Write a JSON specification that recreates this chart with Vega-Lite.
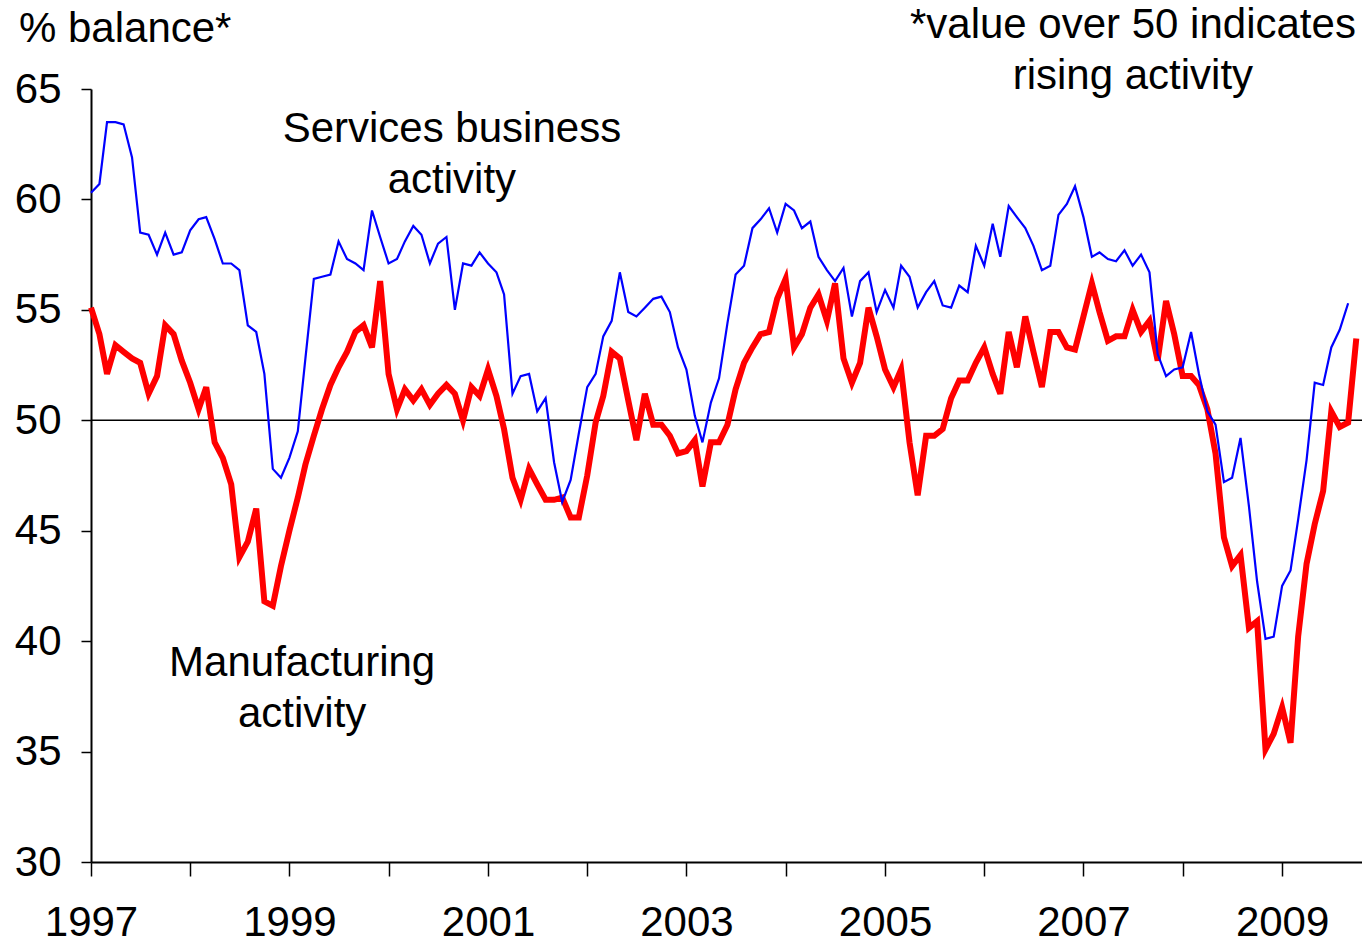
{
  "$schema": "https://vega.github.io/schema/vega-lite/v6.json",
  "width": 1271,
  "height": 773,
  "autosize": "none",
  "padding": {"left": 91, "top": 89, "right": 0, "bottom": 79},
  "background": "white",
  "config": {"font": "Liberation Sans", "view": {"stroke": null}},
  "datasets": {
    "pmi": [
      {"date":"1997-01-01","services":60.3,"manufacturing":55.1},
      {"date":"1997-02-01","services":60.7,"manufacturing":53.9},
      {"date":"1997-03-01","services":63.5,"manufacturing":52.1},
      {"date":"1997-04-01","services":63.5,"manufacturing":53.4},
      {"date":"1997-05-01","services":63.4,"manufacturing":53.1},
      {"date":"1997-06-01","services":61.9,"manufacturing":52.8},
      {"date":"1997-07-01","services":58.5,"manufacturing":52.6},
      {"date":"1997-08-01","services":58.4,"manufacturing":51.2},
      {"date":"1997-09-01","services":57.5,"manufacturing":52.0},
      {"date":"1997-10-01","services":58.5,"manufacturing":54.3},
      {"date":"1997-11-01","services":57.5,"manufacturing":53.9},
      {"date":"1997-12-01","services":57.6,"manufacturing":52.7},
      {"date":"1998-01-01","services":58.6,"manufacturing":51.7},
      {"date":"1998-02-01","services":59.1,"manufacturing":50.5},
      {"date":"1998-03-01","services":59.2,"manufacturing":51.5},
      {"date":"1998-04-01","services":58.2,"manufacturing":49.0},
      {"date":"1998-05-01","services":57.1,"manufacturing":48.3},
      {"date":"1998-06-01","services":57.1,"manufacturing":47.1},
      {"date":"1998-07-01","services":56.8,"manufacturing":43.8},
      {"date":"1998-08-01","services":54.3,"manufacturing":44.5},
      {"date":"1998-09-01","services":54.0,"manufacturing":46.0},
      {"date":"1998-10-01","services":52.1,"manufacturing":41.8},
      {"date":"1998-11-01","services":47.8,"manufacturing":41.6},
      {"date":"1998-12-01","services":47.4,"manufacturing":43.4},
      {"date":"1999-01-01","services":48.3,"manufacturing":45.0},
      {"date":"1999-02-01","services":49.5,"manufacturing":46.5},
      {"date":"1999-03-01","services":52.8,"manufacturing":48.0},
      {"date":"1999-04-01","services":56.4,"manufacturing":49.3},
      {"date":"1999-05-01","services":56.5,"manufacturing":50.5},
      {"date":"1999-06-01","services":56.6,"manufacturing":51.6},
      {"date":"1999-07-01","services":58.1,"manufacturing":52.4},
      {"date":"1999-08-01","services":57.3,"manufacturing":53.1},
      {"date":"1999-09-01","services":57.1,"manufacturing":54.0},
      {"date":"1999-10-01","services":56.8,"manufacturing":54.3},
      {"date":"1999-11-01","services":59.5,"manufacturing":53.3},
      {"date":"1999-12-01","services":58.3,"manufacturing":56.3},
      {"date":"2000-01-01","services":57.1,"manufacturing":52.1},
      {"date":"2000-02-01","services":57.3,"manufacturing":50.5},
      {"date":"2000-03-01","services":58.1,"manufacturing":51.4},
      {"date":"2000-04-01","services":58.8,"manufacturing":50.9},
      {"date":"2000-05-01","services":58.4,"manufacturing":51.4},
      {"date":"2000-06-01","services":57.1,"manufacturing":50.7},
      {"date":"2000-07-01","services":58.0,"manufacturing":51.2},
      {"date":"2000-08-01","services":58.3,"manufacturing":51.6},
      {"date":"2000-09-01","services":55.0,"manufacturing":51.2},
      {"date":"2000-10-01","services":57.1,"manufacturing":50.0},
      {"date":"2000-11-01","services":57.0,"manufacturing":51.5},
      {"date":"2000-12-01","services":57.6,"manufacturing":51.1},
      {"date":"2001-01-01","services":57.1,"manufacturing":52.3},
      {"date":"2001-02-01","services":56.7,"manufacturing":51.1},
      {"date":"2001-03-01","services":55.7,"manufacturing":49.6},
      {"date":"2001-04-01","services":51.2,"manufacturing":47.4},
      {"date":"2001-05-01","services":52.0,"manufacturing":46.4},
      {"date":"2001-06-01","services":52.1,"manufacturing":47.8},
      {"date":"2001-07-01","services":50.4,"manufacturing":47.1},
      {"date":"2001-08-01","services":51.0,"manufacturing":46.4},
      {"date":"2001-09-01","services":48.1,"manufacturing":46.4},
      {"date":"2001-10-01","services":46.3,"manufacturing":46.5},
      {"date":"2001-11-01","services":47.3,"manufacturing":45.6},
      {"date":"2001-12-01","services":49.4,"manufacturing":45.6},
      {"date":"2002-01-01","services":51.5,"manufacturing":47.5},
      {"date":"2002-02-01","services":52.1,"manufacturing":49.9},
      {"date":"2002-03-01","services":53.8,"manufacturing":51.1},
      {"date":"2002-04-01","services":54.5,"manufacturing":53.1},
      {"date":"2002-05-01","services":56.7,"manufacturing":52.8},
      {"date":"2002-06-01","services":54.9,"manufacturing":50.9},
      {"date":"2002-07-01","services":54.7,"manufacturing":49.1},
      {"date":"2002-08-01","services":55.1,"manufacturing":51.2},
      {"date":"2002-09-01","services":55.5,"manufacturing":49.8},
      {"date":"2002-10-01","services":55.6,"manufacturing":49.8},
      {"date":"2002-11-01","services":54.9,"manufacturing":49.3},
      {"date":"2002-12-01","services":53.3,"manufacturing":48.5},
      {"date":"2003-01-01","services":52.3,"manufacturing":48.6},
      {"date":"2003-02-01","services":50.2,"manufacturing":49.1},
      {"date":"2003-03-01","services":49.0,"manufacturing":47.0},
      {"date":"2003-04-01","services":50.8,"manufacturing":49.0},
      {"date":"2003-05-01","services":51.9,"manufacturing":49.0},
      {"date":"2003-06-01","services":54.4,"manufacturing":49.8},
      {"date":"2003-07-01","services":56.6,"manufacturing":51.4},
      {"date":"2003-08-01","services":57.0,"manufacturing":52.6},
      {"date":"2003-09-01","services":58.7,"manufacturing":53.3},
      {"date":"2003-10-01","services":59.1,"manufacturing":53.9},
      {"date":"2003-11-01","services":59.6,"manufacturing":54.0},
      {"date":"2003-12-01","services":58.5,"manufacturing":55.5},
      {"date":"2004-01-01","services":59.8,"manufacturing":56.4},
      {"date":"2004-02-01","services":59.5,"manufacturing":53.3},
      {"date":"2004-03-01","services":58.7,"manufacturing":53.9},
      {"date":"2004-04-01","services":59.0,"manufacturing":55.1},
      {"date":"2004-05-01","services":57.4,"manufacturing":55.7},
      {"date":"2004-06-01","services":56.8,"manufacturing":54.5},
      {"date":"2004-07-01","services":56.3,"manufacturing":56.2},
      {"date":"2004-08-01","services":56.9,"manufacturing":52.8},
      {"date":"2004-09-01","services":54.7,"manufacturing":51.7},
      {"date":"2004-10-01","services":56.3,"manufacturing":52.6},
      {"date":"2004-11-01","services":56.7,"manufacturing":55.1},
      {"date":"2004-12-01","services":54.9,"manufacturing":53.8},
      {"date":"2005-01-01","services":55.9,"manufacturing":52.3},
      {"date":"2005-02-01","services":55.1,"manufacturing":51.5},
      {"date":"2005-03-01","services":57.0,"manufacturing":52.3},
      {"date":"2005-04-01","services":56.5,"manufacturing":49.0},
      {"date":"2005-05-01","services":55.1,"manufacturing":46.6},
      {"date":"2005-06-01","services":55.8,"manufacturing":49.3},
      {"date":"2005-07-01","services":56.3,"manufacturing":49.3},
      {"date":"2005-08-01","services":55.2,"manufacturing":49.6},
      {"date":"2005-09-01","services":55.1,"manufacturing":51.0},
      {"date":"2005-10-01","services":56.1,"manufacturing":51.8},
      {"date":"2005-11-01","services":55.8,"manufacturing":51.8},
      {"date":"2005-12-01","services":57.9,"manufacturing":52.6},
      {"date":"2006-01-01","services":57.0,"manufacturing":53.3},
      {"date":"2006-02-01","services":58.9,"manufacturing":52.1},
      {"date":"2006-03-01","services":57.4,"manufacturing":51.2},
      {"date":"2006-04-01","services":59.7,"manufacturing":54.0},
      {"date":"2006-05-01","services":59.2,"manufacturing":52.4},
      {"date":"2006-06-01","services":58.7,"manufacturing":54.7},
      {"date":"2006-07-01","services":57.9,"manufacturing":53.1},
      {"date":"2006-08-01","services":56.8,"manufacturing":51.5},
      {"date":"2006-09-01","services":57.0,"manufacturing":54.0},
      {"date":"2006-10-01","services":59.3,"manufacturing":54.0},
      {"date":"2006-11-01","services":59.8,"manufacturing":53.3},
      {"date":"2006-12-01","services":60.6,"manufacturing":53.2},
      {"date":"2007-01-01","services":59.2,"manufacturing":54.7},
      {"date":"2007-02-01","services":57.4,"manufacturing":56.2},
      {"date":"2007-03-01","services":57.6,"manufacturing":54.9},
      {"date":"2007-04-01","services":57.3,"manufacturing":53.6},
      {"date":"2007-05-01","services":57.2,"manufacturing":53.8},
      {"date":"2007-06-01","services":57.7,"manufacturing":53.8},
      {"date":"2007-07-01","services":57.0,"manufacturing":55.0},
      {"date":"2007-08-01","services":57.5,"manufacturing":54.0},
      {"date":"2007-09-01","services":56.7,"manufacturing":54.5},
      {"date":"2007-10-01","services":53.0,"manufacturing":52.7},
      {"date":"2007-11-01","services":52.0,"manufacturing":55.4},
      {"date":"2007-12-01","services":52.3,"manufacturing":53.9},
      {"date":"2008-01-01","services":52.4,"manufacturing":52.0},
      {"date":"2008-02-01","services":54.0,"manufacturing":52.0},
      {"date":"2008-03-01","services":52.1,"manufacturing":51.6},
      {"date":"2008-04-01","services":50.4,"manufacturing":50.5},
      {"date":"2008-05-01","services":49.8,"manufacturing":48.5},
      {"date":"2008-06-01","services":47.2,"manufacturing":44.7},
      {"date":"2008-07-01","services":47.4,"manufacturing":43.4},
      {"date":"2008-08-01","services":49.2,"manufacturing":43.9},
      {"date":"2008-09-01","services":46.1,"manufacturing":40.6},
      {"date":"2008-10-01","services":42.7,"manufacturing":40.9},
      {"date":"2008-11-01","services":40.1,"manufacturing":35.1},
      {"date":"2008-12-01","services":40.2,"manufacturing":35.8},
      {"date":"2009-01-01","services":42.5,"manufacturing":37.0},
      {"date":"2009-02-01","services":43.2,"manufacturing":35.4},
      {"date":"2009-03-01","services":45.5,"manufacturing":40.2},
      {"date":"2009-04-01","services":48.2,"manufacturing":43.5},
      {"date":"2009-05-01","services":51.7,"manufacturing":45.3},
      {"date":"2009-06-01","services":51.6,"manufacturing":46.8},
      {"date":"2009-07-01","services":53.3,"manufacturing":50.4},
      {"date":"2009-08-01","services":54.1,"manufacturing":49.7},
      {"date":"2009-09-01","services":55.3,"manufacturing":49.9},
      {"date":"2009-10-01","services":null,"manufacturing":53.7}
    ],
    "notes": [
      {"date":"2000-08-21","value":62.6,"text":"Services business\nactivity"},
      {"date":"1999-02-17","value":38.4,"text":"Manufacturing\nactivity"},
      {"date":"2007-07-02","value":67.3,"text":"*value over 50 indicates\nrising activity"}
    ],
    "unit": [
      {"date":"1996-04-11","value":67.13,"text":"% balance*"}
    ],
    "ref": [{"level": 50}]
  },
  "layer": [
    {
      "data": {"name": "ref"},
      "mark": {"type": "rule", "color": "black", "strokeWidth": 1.5},
      "encoding": {"y": {"field": "level", "type": "quantitative"}}
    },
    {
      "data": {"name": "pmi"},
      "mark": {"type": "line", "color": "#FF0000", "strokeWidth": 6},
      "encoding": {
        "x": {
          "field": "date", "type": "temporal",
          "scale": {"type": "utc", "domain": [{"year": 1997, "month": 1, "date": 1, "utc": true}, {"year": 2009, "month": 10, "date": 22, "utc": true}]},
          "axis": {
            "title": null, "grid": false,
            "values": [{"year":1997,"month":1,"date":1,"utc":true},{"year":1998,"month":1,"date":1,"utc":true},{"year":1999,"month":1,"date":1,"utc":true},{"year":2000,"month":1,"date":1,"utc":true},{"year":2001,"month":1,"date":1,"utc":true},{"year":2002,"month":1,"date":1,"utc":true},{"year":2003,"month":1,"date":1,"utc":true},{"year":2004,"month":1,"date":1,"utc":true},{"year":2005,"month":1,"date":1,"utc":true},{"year":2006,"month":1,"date":1,"utc":true},{"year":2007,"month":1,"date":1,"utc":true},{"year":2008,"month":1,"date":1,"utc":true},{"year":2009,"month":1,"date":1,"utc":true}],
            "labelExpr": "utcyear(datum.value) % 2 == 1 ? utcFormat(datum.value, '%Y') : ''",
            "domainColor": "black", "domainWidth": 2,
            "tickColor": "black", "tickWidth": 1.5, "tickSize": 14,
            "labelFontSize": 42, "labelColor": "black", "labelFont": "Liberation Sans",
            "labelBaseline": "alphabetic", "labelPadding": 59,
            "labelFlush": false, "labelOverlap": false
          }
        },
        "y": {
          "field": "manufacturing", "type": "quantitative",
          "scale": {"domain": [30, 65], "nice": false, "zero": false},
          "axis": {
            "title": null, "grid": false,
            "values": [30, 35, 40, 45, 50, 55, 60, 65],
            "domainColor": "black", "domainWidth": 2,
            "tickColor": "black", "tickWidth": 1.5, "tickSize": 10,
            "labelFontSize": 42, "labelColor": "black", "labelFont": "Liberation Sans",
            "labelPadding": 20, "labelFlush": false, "labelOverlap": false
          }
        }
      }
    },
    {
      "data": {"name": "pmi"},
      "mark": {"type": "line", "color": "#0000FF", "strokeWidth": 2.2},
      "encoding": {
        "x": {"field": "date", "type": "temporal"},
        "y": {"field": "services", "type": "quantitative"}
      }
    },
    {
      "data": {"name": "notes"},
      "mark": {"type": "text", "align": "center", "baseline": "alphabetic", "fontSize": 42, "font": "Liberation Sans", "color": "black", "lineBreak": "\n", "lineHeight": 51},
      "encoding": {
        "x": {"field": "date", "type": "temporal"},
        "y": {"field": "value", "type": "quantitative"},
        "text": {"field": "text"}
      }
    },
    {
      "data": {"name": "unit"},
      "mark": {"type": "text", "align": "left", "baseline": "alphabetic", "fontSize": 42, "font": "Liberation Sans", "color": "black"},
      "encoding": {
        "x": {"field": "date", "type": "temporal"},
        "y": {"field": "value", "type": "quantitative"},
        "text": {"field": "text"}
      }
    }
  ]
}
